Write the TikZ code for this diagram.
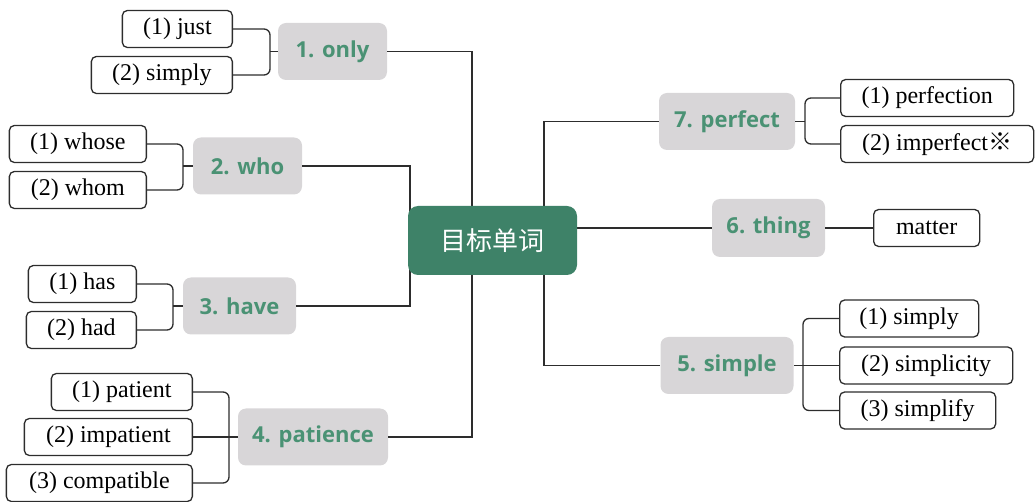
\documentclass[tikz,border=0pt]{standalone}
\usepackage{fontspec}
\setmainfont{Liberation Serif}
\newfontfamily\wordfont{Open Sans}
\newfontfamily\cjkfont{Noto Sans CJK SC}
\usepackage{tikz}
\usepackage{color}

\definecolor{rootgreen}{RGB}{62,130,104}
\definecolor{wordgreen}{RGB}{74,146,116}
\definecolor{wordgrey}{RGB}{216,214,216}
\definecolor{linegrey}{RGB}{45,45,45}

\begin{document}
\begin{tikzpicture} [x=0.5pt, y=-0.5pt,
  root/.style={fill=rootgreen, rounded corners=5pt, minimum width=84.5pt, minimum height=34.5pt, inner sep=0pt, text=white, font=\cjkfont\fontsize{13}{15}\selectfont},
  word/.style={fill=wordgrey, rounded corners=4pt, minimum height=28.5pt, inner sep=0pt, text=wordgreen, font=\wordfont\bfseries\fontsize{11}{13}\selectfont},
  leaf/.style={draw=linegrey, line width=0.65pt, rounded corners=2.5pt, minimum height=18.5pt, inner sep=0pt, font=\fontsize{12}{14}\selectfont},
  link/.style={draw=linegrey, line width=0.65pt},
  bracket/.style={link, rounded corners=3pt}]

\useasboundingbox (0,0) rectangle (1035,502);

\coordinate (rootc) at (492.5,240.5);
\coordinate (leftx) at (410,0);
\coordinate (midx) at (472,0);
\coordinate (rightx) at (544,0);

\node [word, minimum width=54.5pt] (only) at (332.5,51.5) {1. only};
\node [word, minimum width=54.5pt] (who) at (247.5,166) {2. who};
\node [word, minimum width=56.5pt] (have) at (239.5,306) {3. have};
\node [word, minimum width=75pt] (patience) at (313,437) {4. patience};
\node [word, minimum width=66.5pt] (simple) at (727,365.5) {5. simple};
\node [word, minimum width=56.5pt, minimum height=29pt] (thing) at (768.5,228) {6. thing};
\node [word, minimum width=68pt] (perfect) at (727,121.5) {7. perfect};

\node [leaf, minimum width=55pt, anchor=east] (just) at (233,29) {(1) just};
\node [leaf, minimum width=70.5pt, anchor=east] (simply) at (233,75) {(2) simply};
\node [leaf, minimum width=68.5pt, anchor=east] (whose) at (147,144) {(1) whose};
\node [leaf, minimum width=68.5pt, anchor=east] (whom) at (147,190) {(2) whom};
\node [leaf, minimum width=54pt, anchor=east] (has) at (137,284) {(1) has};
\node [leaf, minimum width=55pt, anchor=east] (had) at (137,330) {(2) had};
\node [leaf, minimum width=70.5pt, anchor=east] (patient) at (193,392) {(1) patient};
\node [leaf, minimum width=84pt, anchor=east] (impatient) at (193,437) {(2) impatient};
\node [leaf, minimum width=93pt, anchor=east] (compatible) at (193,483) {(3) compatible};

\node [leaf, minimum width=86.5pt, anchor=west] (perfection) at (840,98) {(1) perfection};
\node [leaf, minimum width=96.5pt, anchor=west] (imperfect) at (840,144) {(2) imperfect{\cjkfont ※}};
\node [leaf, minimum width=53pt, anchor=west] (matter) at (873,228) {matter};
\node [leaf, minimum width=69.5pt, anchor=west] (simplyb) at (839,318.5) {(1) simply};
\node [leaf, minimum width=86.5pt, anchor=west] (simplicity) at (839,365.5) {(2) simplicity};
\node [leaf, minimum width=78pt, anchor=west] (simplify) at (839,410.5) {(3) simplify};

\coordinate (onlyj) at (270,51.5);
\coordinate (whoj) at (183,166);
\coordinate (havej) at (173,306);
\coordinate (patj) at (229,437);
\coordinate (perfj) at (805,121.5);
\coordinate (simplej) at (803,365.5);

\draw [bracket] (just.east) -| (onlyj) |- (simply.east);
\draw [link] (onlyj) -- (only.west);
\draw [bracket] (whose.east) -| (whoj) |- (whom.east);
\draw [link] (whoj) -- (who.west);
\draw [bracket] (has.east) -| (havej) |- (had.east);
\draw [link] (havej) -- (have.west);
\draw [bracket] (patient.east) -| (patj) |- (compatible.east);
\draw [link] (impatient.east) -- (patience.west);

\draw [bracket] (perfection.west) -| (perfj) |- (imperfect.west);
\draw [link] (perfect.east) -- (perfj);
\draw [link] (thing.east) -- (matter.west);
\draw [bracket] (simplyb.west) -| (simplej) |- (simplify.west);
\draw [link] (simple.east) -- (simplicity.west);

\draw [link] (only.east) -| (rootc -| midx);
\draw [link] (who.east) -| (rootc -| leftx);
\draw [link] (have.east) -| (rootc -| leftx);
\draw [link] (patience.east) -| (rootc -| midx);
\draw [link] (perfect.west) -| (rootc -| rightx);
\draw [link] (simple.west) -| (rootc -| rightx);
\draw [link] (thing.west) -- (thing.west -| rootc);

\node [root] (root) at (rootc) {目标单词};

\end{tikzpicture}
\end{document}
